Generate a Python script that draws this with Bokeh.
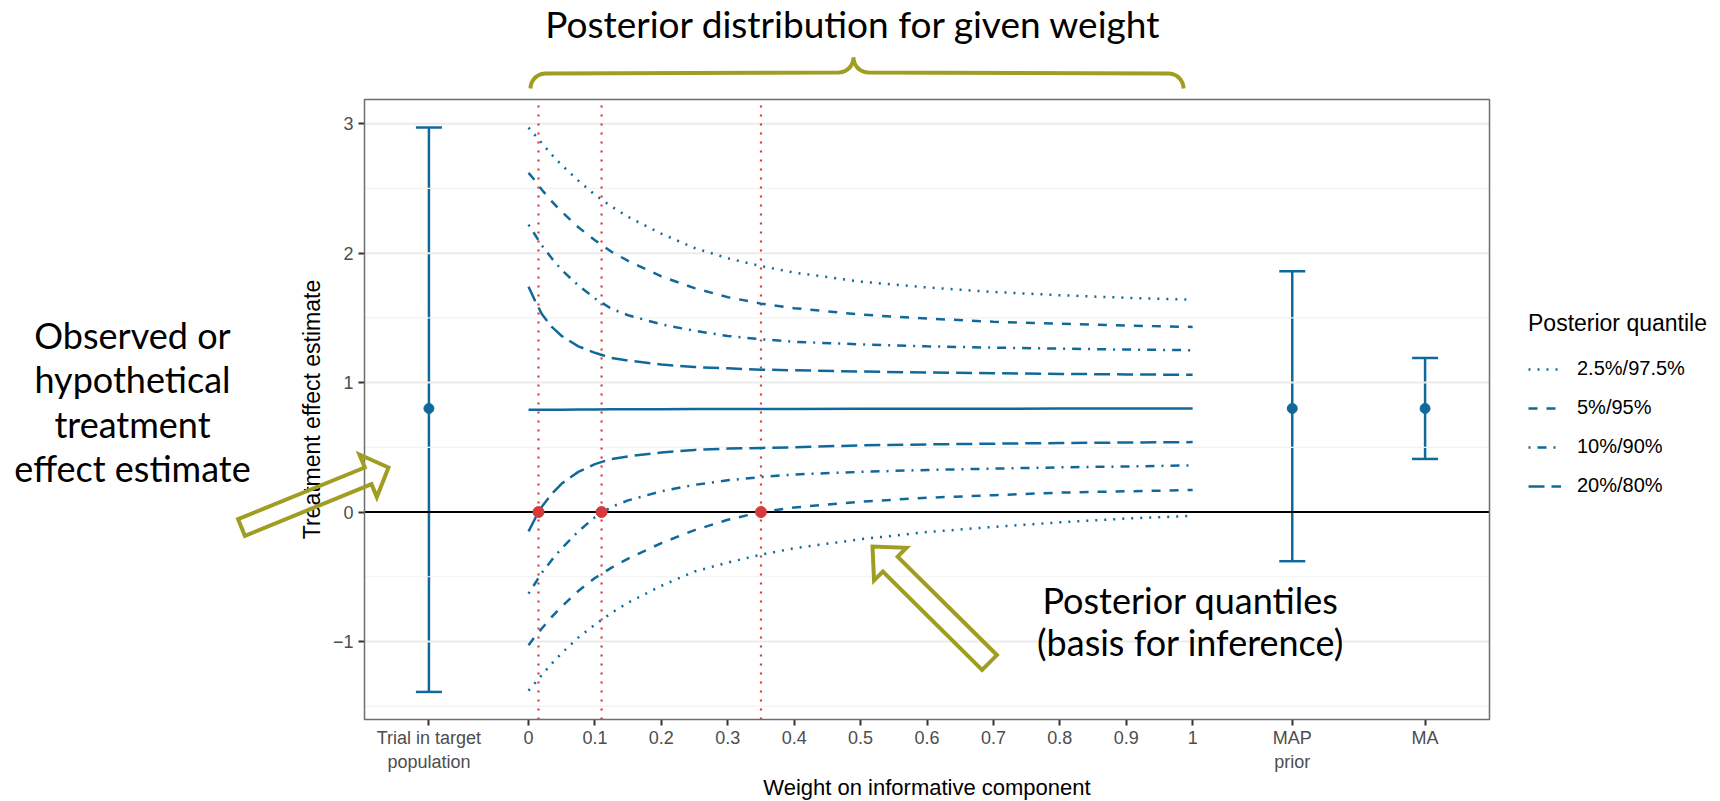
import math
from bokeh.plotting import figure
from bokeh.models import (FixedTicker, Label, PolyAnnotation, Legend, LegendItem, BoxAnnotation,
                          Whisker, ColumnDataSource, TeeHead, Range1d)
from bokeh.embed import file_html
from bokeh.resources import INLINE

# ---------------- data ----------------
weight = [0, 0.01, 0.02, 0.035, 0.05, 0.075, 0.1, 0.125, 0.15, 0.2, 0.25, 0.3,
          0.35, 0.4, 0.5, 0.6, 0.7, 0.8, 0.9, 1.0]
median = [0.79, 0.79, 0.79, 0.791, 0.791, 0.792, 0.792, 0.793, 0.793, 0.794, 0.795, 0.795,
          0.796, 0.796, 0.797, 0.798, 0.798, 0.799, 0.8, 0.8]
q975 = [2.97, 2.91, 2.85, 2.76, 2.68, 2.56, 2.45, 2.36, 2.28, 2.15, 2.04, 1.96,
        1.90, 1.85, 1.78, 1.735, 1.70, 1.675, 1.655, 1.64]
q025 = [-1.38, -1.32, -1.26, -1.17, -1.09, -0.97, -0.87, -0.78, -0.70, -0.57, -0.46, -0.39,
        -0.33, -0.28, -0.21, -0.155, -0.115, -0.08, -0.05, -0.03]
q95 = [2.62, 2.56, 2.49, 2.40, 2.32, 2.20, 2.10, 2.01, 1.94, 1.82, 1.73, 1.66,
       1.61, 1.575, 1.525, 1.495, 1.47, 1.455, 1.44, 1.43]
q05 = [-1.03, -0.96, -0.90, -0.81, -0.73, -0.61, -0.51, -0.43, -0.36, -0.24, -0.14, -0.06,
       0.0, 0.035, 0.08, 0.11, 0.13, 0.15, 0.16, 0.17]
q90 = [2.22, 2.14, 2.06, 1.96, 1.87, 1.75, 1.65, 1.57, 1.52, 1.45, 1.40, 1.36,
       1.335, 1.315, 1.295, 1.28, 1.27, 1.262, 1.255, 1.25]
q10 = [-0.63, -0.55, -0.47, -0.37, -0.28, -0.15, -0.04, 0.04, 0.09, 0.16, 0.21, 0.245,
       0.27, 0.29, 0.31, 0.325, 0.335, 0.345, 0.352, 0.36]
q80 = [1.74, 1.63, 1.53, 1.43, 1.36, 1.28, 1.23, 1.19, 1.17, 1.14, 1.12, 1.11,
       1.10, 1.095, 1.085, 1.078, 1.072, 1.067, 1.063, 1.06]
q20 = [-0.15, -0.05, 0.04, 0.14, 0.22, 0.31, 0.37, 0.41, 0.43, 0.46, 0.48, 0.49,
       0.495, 0.50, 0.515, 0.522, 0.528, 0.533, 0.537, 0.54]

quantile_labels = ["2.5%/97.5%", "5%/95%", "10%/90%", "20%/80%"]

# interval estimates (trial, MAP prior, MA)
est_pos = [-0.15, 1.15, 1.35]
est_mid = [0.80, 0.80, 0.80]
est_lo = [-1.39, -0.38, 0.41]
est_hi = [2.97, 1.86, 1.19]

# weights at which lower quantiles cross zero
cross_w = [0.015, 0.11, 0.35]
cross_y = [0, 0, 0]

x_ticks = [-0.15, 0, 0.1, 0.2, 0.3, 0.4, 0.5, 0.6, 0.7, 0.8, 0.9, 1, 1.15, 1.35]
x_tick_labels = ["Trial in target\npopulation", "0", "0.1", "0.2", "0.3", "0.4", "0.5",
                 "0.6", "0.7", "0.8", "0.9", "1", "MAP\nprior", "MA"]
y_ticks = [-1, 0, 1, 2, 3]
y_tick_labels = ["\u22121", "0", "1", "2", "3"]
y_minor = [-1.5, -0.5, 0.5, 1.5, 2.5]

# ---------------- style / geometry ----------------
BLUE = "#11699b"
RED = "#d63a3a"
OLIVE = "#a09e22"
ANN_FONT = "Lato"
AX_FONT = "Liberation Sans"
W, H = 1720, 801

XR = (-0.247, 1.447)      # panel x-limits
YR = (-1.603, 3.187)      # panel y-limits
FL, FT, FW, FH = 364, 99, 1125, 620   # panel position on the page (px)
sx = FW / (XR[1] - XR[0])
sy = FH / (YR[1] - YR[0])
XF = (XR[0] - FL / sx, XR[1] + (W - FL - FW) / sx)
YF = (YR[0] - (H - FT - FH) / sy, YR[1] + FT / sy)

p = figure(width=W, height=H, x_range=Range1d(*XF), y_range=Range1d(*YF),
           output_backend="svg", toolbar_location=None, min_border=0)
p.background_fill_color = "white"
p.border_fill_color = "white"
p.outline_line_color = None
p.xgrid.visible = False
p.ygrid.visible = False

# axes, fixed on the panel edges
p.xaxis.fixed_location = YR[0]
p.xaxis.bounds = XR
p.yaxis.fixed_location = XR[0]
p.yaxis.bounds = YR
p.xaxis.ticker = FixedTicker(ticks=x_ticks)
p.xaxis.major_label_overrides = dict(zip(x_ticks, x_tick_labels))
p.yaxis.ticker = FixedTicker(ticks=y_ticks)
p.yaxis.major_label_overrides = dict(zip(y_ticks, y_tick_labels))
for ax in (p.xaxis, p.yaxis):
    ax.axis_line_color = None
    ax.major_tick_line_color = "#333333"
    ax.major_tick_line_width = 2
    ax.major_tick_in = 0
    ax.major_tick_out = 6
    ax.minor_tick_line_color = None
    ax.major_label_text_font = AX_FONT
    ax.major_label_text_font_size = "18px"
    ax.major_label_text_color = "#4d4d4d"
    ax.axis_label_text_font = AX_FONT
    ax.axis_label_text_font_style = "normal"
    ax.axis_label_text_color = "black"
p.xaxis.axis_label_text_font_size = "22px"
p.yaxis.axis_label_text_font_size = "23px"
p.xaxis.axis_label = "Weight on informative component"
p.yaxis.axis_label = "Treatment effect estimate"
p.xaxis.major_label_standoff = 2
p.yaxis.major_label_standoff = 5
p.xaxis.axis_label_standoff = 0
p.yaxis.axis_label_standoff = 5

# grid lines inside the panel
p.segment(x0=XR[0], x1=XR[1], y0=y_minor, y1=y_minor, line_color="#f2f2f2", line_width=1.2)
p.segment(x0=XR[0], x1=XR[1], y0=y_ticks, y1=y_ticks, line_color="#ebebeb", line_width=2)

# reference lines
p.segment(x0=XR[0], x1=XR[1], y0=0, y1=0, line_color="black", line_width=2.2)
p.segment(x0=cross_w, x1=cross_w, y0=YR[0], y1=YR[1], line_color=RED, line_width=2.2,
          line_dash="2 7")

# quantile curves
dashes = ["2 7", "9 9", "2 7 9 7", "16 7"]
pairs = [(q975, q025), (q95, q05), (q90, q10), (q80, q20)]
items = []
for (hi, lo), dash, lab in zip(pairs, dashes, quantile_labels):
    r1 = p.line(weight, hi, line_color=BLUE, line_width=2.5, line_dash=dash)
    p.line(weight, lo, line_color=BLUE, line_width=2.5, line_dash=dash)
    items.append(LegendItem(label=lab, renderers=[r1]))
p.line(weight, median, line_color=BLUE, line_width=2.5)

# interval estimates
src = ColumnDataSource(dict(x=est_pos, mid=est_mid, lo=est_lo, hi=est_hi))
wh = Whisker(source=src, base="x", upper="hi", lower="lo", dimension="height",
             line_color=BLUE, line_width=2.5,
             upper_head=TeeHead(size=26, line_color=BLUE, line_width=2.5),
             lower_head=TeeHead(size=26, line_color=BLUE, line_width=2.5))
p.add_layout(wh)
p.scatter("x", "mid", source=src, size=10, color=BLUE)

# zero-crossing points
p.scatter(cross_w, cross_y, size=11, color=RED)

# panel border
p.add_layout(BoxAnnotation(left=XR[0], right=XR[1], bottom=YR[0], top=YR[1],
                           fill_alpha=0, line_color="#6e6e6e", line_alpha=1, line_width=1.5))

# legend (location: bottom-left corner, px from the page's bottom-left)
legend = Legend(items=items, title="Posterior quantile", location=(1528, 304))
legend.title_text_font = AX_FONT
legend.title_text_font_size = "23px"
legend.title_text_font_style = "normal"
legend.title_text_color = "black"
legend.title_standoff = 20
legend.label_text_font = AX_FONT
legend.label_text_font_size = "20px"
legend.label_text_color = "black"
legend.glyph_width = 33
legend.glyph_height = 22
legend.label_height = 22
legend.label_standoff = 16
legend.spacing = 16
legend.padding = 10
legend.margin = 0
legend.border_line_color = None
legend.background_fill_alpha = 0
p.add_layout(legend)


# ---------------- annotations, placed in canvas pixels (y from top) ----------------
def label(px, py, text, size="36px"):
    p.add_layout(Label(x=px, y=py, x_units="canvas", y_units="canvas",
                       text=text, text_align="center", text_baseline="middle",
                       text_font=ANN_FONT, text_font_size=size, text_color="black"))


label(853, 23, "Posterior distribution for given weight", size="37px")
for i, t in enumerate(["Observed or", "hypothetical", "treatment", "effect estimate"]):
    label(132, 334 + i * 44.5, t)
label(1190, 599, "Posterior quantiles")
label(1190, 641, "(basis for inference)")


def arrow_pts(tail, tip, sw, hw, hl):
    tx, ty = tail
    px, py = tip
    L = math.hypot(px - tx, py - ty)
    ux, uy = (px - tx) / L, (py - ty) / L
    nx, ny = -uy, ux
    bx, by = px - ux * hl, py - uy * hl
    pts = [(tx + nx * sw / 2, ty + ny * sw / 2), (bx + nx * sw / 2, by + ny * sw / 2),
           (bx + nx * hw / 2, by + ny * hw / 2), (px, py),
           (bx - nx * hw / 2, by - ny * hw / 2), (bx - nx * sw / 2, by - ny * sw / 2),
           (tx - nx * sw / 2, ty - ny * sw / 2)]
    return [a for a, b in pts], [b for a, b in pts]


for tail, tip, sw, hw, hl in [((241, 527), (388, 467), 18, 46, 22),
                              ((989, 662), (872, 546), 21, 46, 25)]:
    xs, ys = arrow_pts(tail, tip, sw, hw, hl)
    p.add_layout(PolyAnnotation(xs=xs, ys=ys, xs_units="canvas", ys_units="canvas",
                                line_color=OLIVE, line_alpha=1, line_width=4,
                                line_join="miter", fill_alpha=0))

# curly brace above the panel
bl, br, bc, ytop, ye, r = 530, 1183, 853, 57, 88, 15
path = []
for k in range(11):
    a = math.pi - k * (math.pi / 2) / 10
    path.append((bl + r + r * math.cos(a), ye - r * math.sin(a)))
for k in range(11):
    a = math.pi / 2 - k * (math.pi / 2) / 10
    path.append((bc - r + r * math.cos(a), ytop + r * math.sin(a)))
for k in range(11):
    a = math.pi - k * (math.pi / 2) / 10
    path.append((bc + r + r * math.cos(a), ytop + r * math.sin(a)))
for k in range(11):
    a = math.pi / 2 - k * (math.pi / 2) / 10
    path.append((br - r + r * math.cos(a), ye - r * math.sin(a)))
full = path + path[::-1]
p.add_layout(PolyAnnotation(xs=[a for a, b in full], ys=[b for a, b in full],
                            xs_units="canvas", ys_units="canvas",
                            line_color=OLIVE, line_alpha=1, line_width=4, fill_alpha=0))

open("out.html", "w").write(file_html(p, INLINE))
